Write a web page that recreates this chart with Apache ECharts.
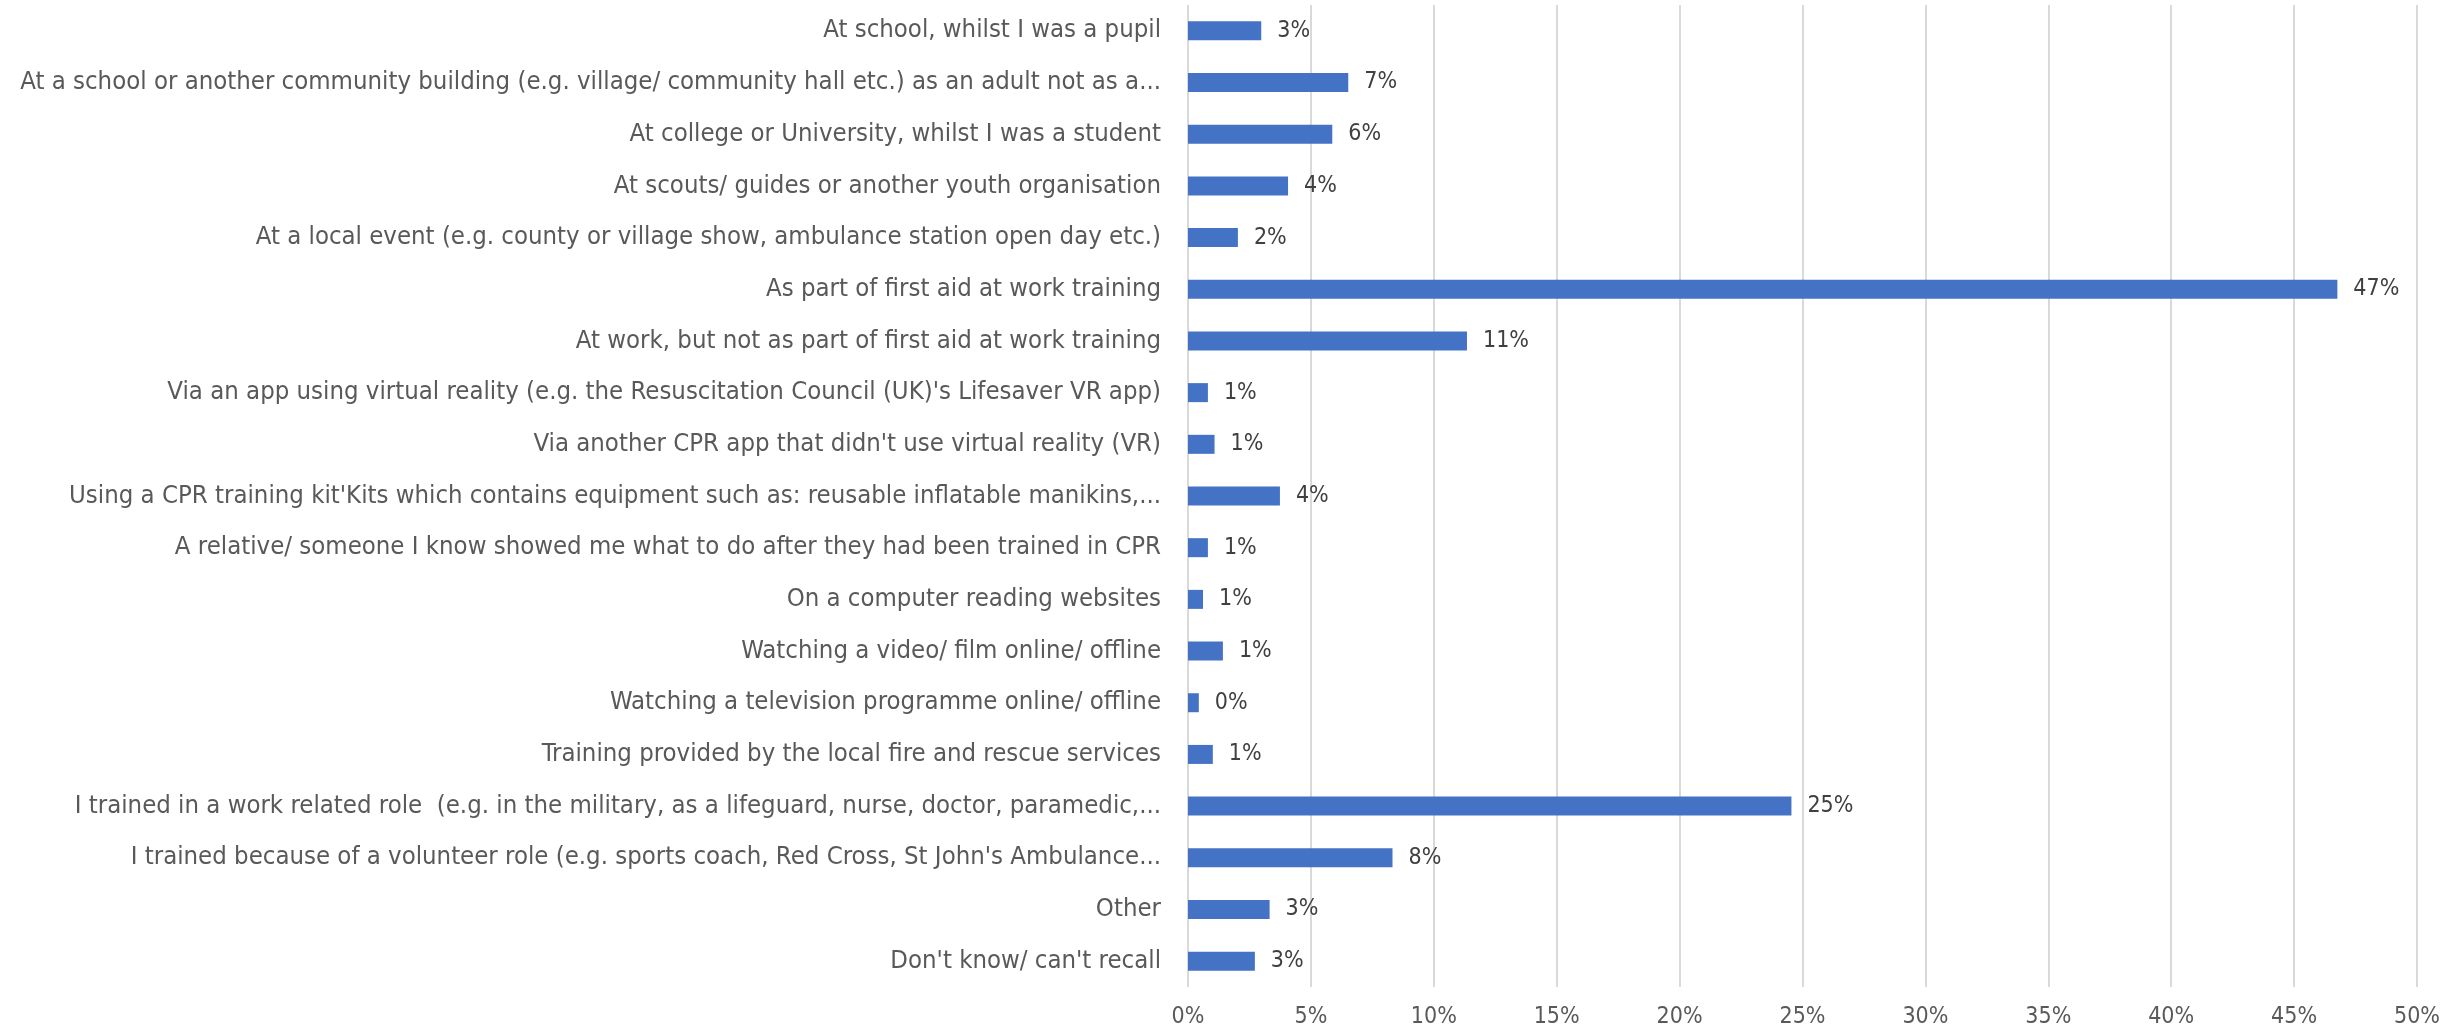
<!DOCTYPE html>
<html>
<head>
<meta charset="utf-8">
<script src="https://cdn.jsdelivr.net/npm/echarts@6/dist/echarts.min.js"></script>
<style>
  html, body { margin: 0; padding: 0; background: #fff; }
  #chart { width: 2461px; height: 1030px; }
</style>
</head>
<body>
<div id="chart"></div>
<script>
// where people learned CPR, percent of respondents
const categories = [
  "At school, whilst I was a pupil",
  "At a school or another community building (e.g. village/ community hall etc.) as an adult not as a...",
  "At college or University, whilst I was a student",
  "At scouts/ guides or another youth organisation",
  "At a local event (e.g. county or village show, ambulance station open day etc.)",
  "As part of first aid at work training",
  "At work, but not as part of first aid at work training",
  "Via an app using virtual reality (e.g. the Resuscitation Council (UK)'s Lifesaver VR app)",
  "Via another CPR app that didn't use virtual reality (VR)",
  "Using a CPR training kit'Kits which contains equipment such as: reusable inflatable manikins,...",
  "A relative/ someone I know showed me what to do after they had been trained in CPR",
  "On a computer reading websites",
  "Watching a video/ film online/ offline",
  "Watching a television programme online/ offline",
  "Training provided by the local fire and rescue services",
  "I trained in a work related role  (e.g. in the military, as a lifeguard, nurse, doctor, paramedic,...",
  "I trained because of a volunteer role (e.g. sports coach, Red Cross, St John's Ambulance...",
  "Other",
  "Don't know/ can't recall"
];
const percents = [2.98, 6.52, 5.87, 4.07, 2.03, 46.76, 11.35, 0.81, 1.08, 3.74,
                  0.81, 0.61, 1.42, 0.44, 1.01, 24.55, 8.32, 3.32, 2.72];
const xTicks = { min: 0, max: 50, step: 5 };

const font = "'Liberation Sans Narrow', 'DejaVu Sans Condensed', sans-serif";
const chart = echarts.init(document.getElementById("chart"));

const option = {
  animation: false,
  grid: {
    left: 1188, right: 44, top: 5, bottom: 43,
    containLabel: false,
    outerBoundsMode: 'none'
  },
  xAxis: {
    type: 'value',
    min: xTicks.min,
    max: xTicks.max,
    interval: xTicks.step,
    axisLine: { show: false },
    axisTick: { show: false },
    axisLabel: {
      formatter: '{value}%',
      color: '#595959',
      fontFamily: font,
      fontSize: 23,
      margin: 19
    },
    splitLine: { show: true, lineStyle: { color: '#d9d9d9', width: 2 } }
  },
  yAxis: {
    type: 'category',
    inverse: true,
    data: categories,
    axisLine: { show: false },
    axisTick: { show: false },
    axisLabel: {
      color: '#595959',
      fontFamily: font,
      fontSize: 25.5,
      margin: 27
    }
  },
  series: [
    {
      type: 'bar',
      data: percents,
      barWidth: 19,
      itemStyle: { color: '#4472C4' },
      label: {
        show: true,
        position: 'right',
        distance: 16,
        color: '#404040',
        fontFamily: font,
        fontSize: 23,
        formatter: function (p) {
          return Math.round(p.value) + '%';
        }
      }
    }
  ]
};
chart.setOption(option);
</script>
</body>
</html>
